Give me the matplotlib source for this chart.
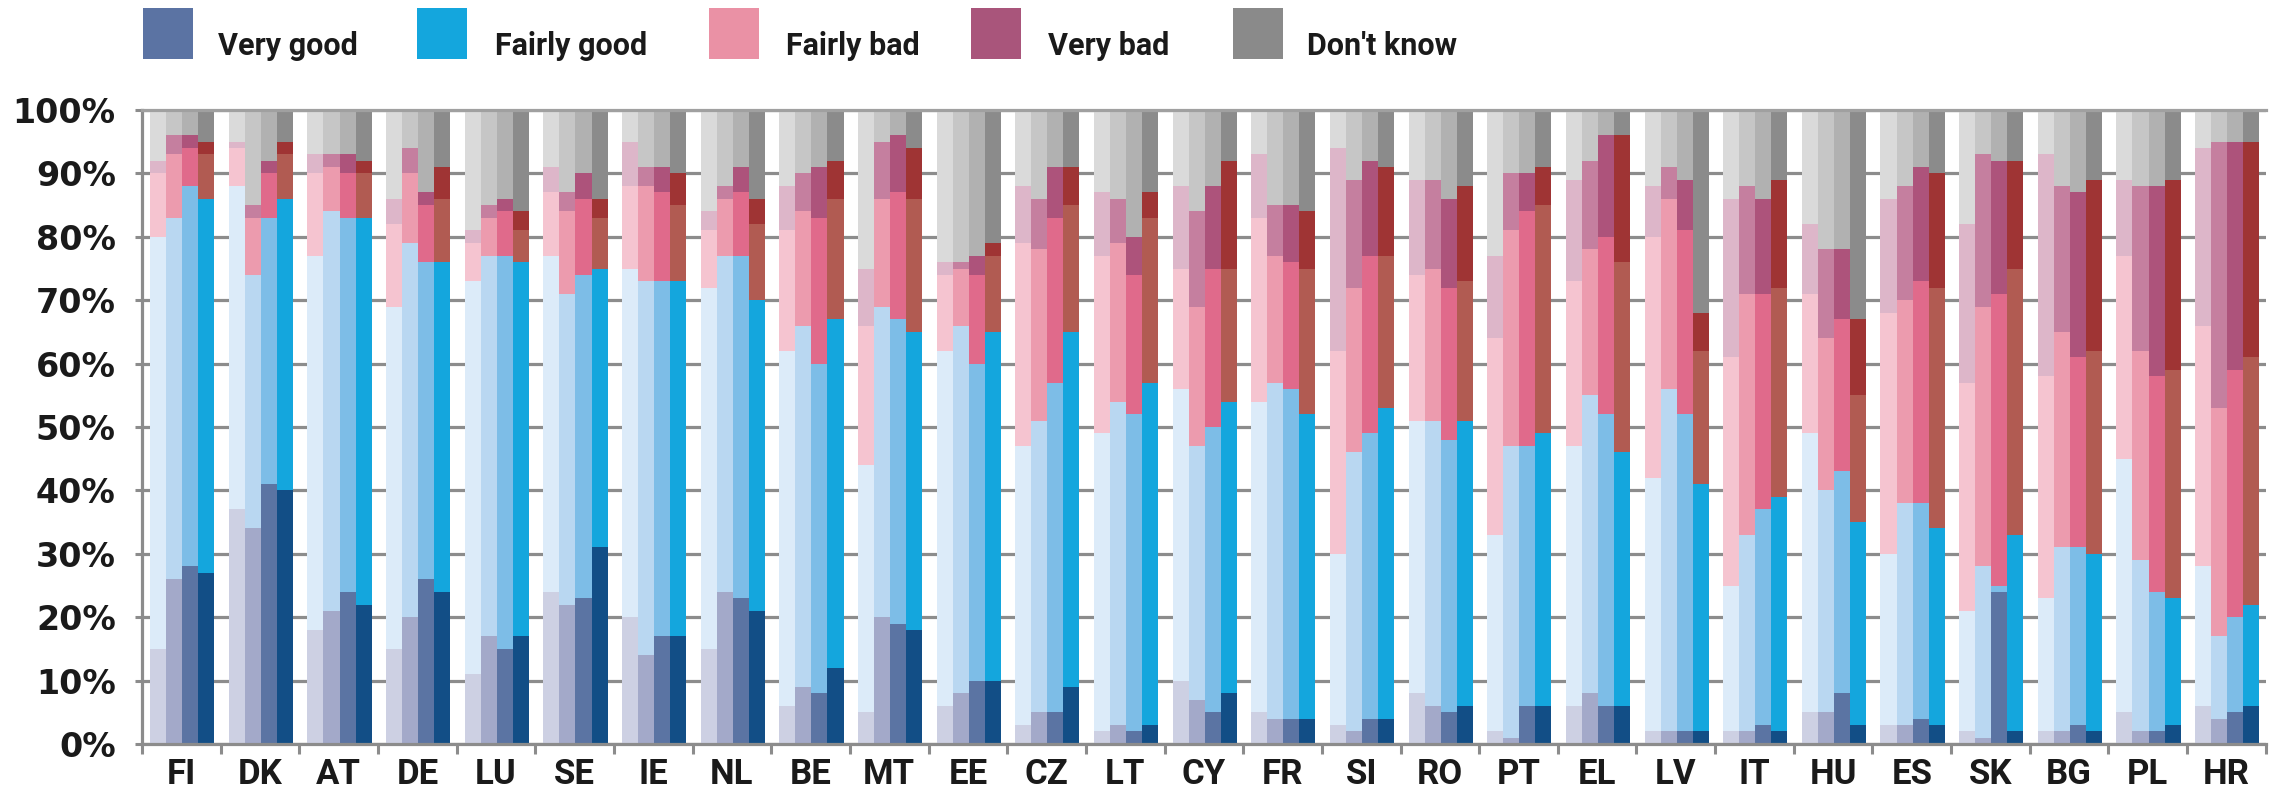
import matplotlib.pyplot as plt
import numpy as np
from matplotlib.patches import Rectangle

countries = ['FI', 'DK', 'AT', 'DE', 'LU', 'SE', 'IE', 'NL', 'BE', 'MT', 'EE', 'CZ', 'LT', 'CY',
             'FR', 'SI', 'RO', 'PT', 'EL', 'LV', 'IT', 'HU', 'ES', 'SK', 'BG', 'PL', 'HR']
labels = ['Very good', 'Fairly good', 'Fairly bad', 'Very bad', "Don't know"]

# shares (%) per country, one value per survey wave (4 bars per country)
very_good = [
    [15, 26, 28, 27], [37, 34, 41, 40], [18, 21, 24, 22], [15, 20, 26, 24], [11, 17, 15, 17],
    [24, 22, 23, 31], [20, 14, 17, 17], [15, 24, 23, 21], [6, 9, 8, 12], [5, 20, 19, 18],
    [6, 8, 10, 10], [3, 5, 5, 9], [2, 3, 2, 3], [10, 7, 5, 8], [5, 4, 4, 4],
    [3, 2, 4, 4], [8, 6, 5, 6], [2, 1, 6, 6], [6, 8, 6, 6], [2, 2, 2, 2],
    [2, 2, 3, 2], [5, 5, 8, 3], [3, 3, 4, 3], [2, 1, 24, 2], [2, 2, 3, 2],
    [5, 2, 2, 3], [6, 4, 5, 6],
]
fairly_good = [
    [65, 57, 60, 59], [51, 40, 42, 46], [59, 63, 59, 61], [54, 59, 50, 52], [62, 60, 62, 59],
    [53, 49, 51, 44], [55, 59, 56, 56], [57, 53, 54, 49], [56, 57, 52, 55], [39, 49, 48, 47],
    [56, 58, 50, 55], [44, 46, 52, 56], [47, 51, 50, 54], [46, 40, 45, 46], [49, 53, 52, 48],
    [27, 44, 45, 49], [43, 45, 43, 45], [31, 46, 41, 43], [41, 47, 46, 40], [40, 54, 50, 39],
    [23, 31, 34, 37], [44, 35, 35, 32], [27, 35, 34, 31], [19, 27, 1, 31], [21, 29, 28, 28],
    [40, 27, 22, 20], [22, 13, 15, 16],
]
fairly_bad = [
    [10, 10, 6, 7], [6, 9, 7, 7], [13, 7, 7, 7], [13, 11, 9, 10], [6, 6, 7, 5],
    [10, 13, 12, 8], [13, 15, 14, 12], [9, 9, 10, 12], [19, 18, 23, 19], [22, 17, 20, 21],
    [12, 9, 14, 12], [32, 27, 26, 20], [28, 25, 22, 26], [19, 22, 25, 21], [29, 20, 20, 23],
    [32, 26, 28, 24], [23, 24, 24, 22], [31, 34, 37, 36], [26, 23, 28, 30], [38, 30, 29, 21],
    [36, 38, 34, 33], [22, 24, 24, 20], [38, 32, 35, 38], [36, 41, 46, 42], [35, 34, 30, 32],
    [32, 33, 34, 36], [38, 36, 39, 39],
]
very_bad = [
    [2, 3, 2, 2], [1, 2, 2, 2], [3, 2, 3, 2], [4, 4, 2, 5], [2, 2, 2, 3],
    [4, 3, 4, 3], [7, 3, 4, 5], [3, 2, 4, 4], [7, 6, 8, 6], [9, 9, 9, 8],
    [2, 1, 3, 2], [9, 8, 8, 6], [10, 7, 6, 4], [13, 15, 13, 17], [10, 8, 9, 9],
    [32, 17, 15, 14], [15, 14, 14, 15], [13, 9, 6, 6], [16, 14, 16, 20], [8, 5, 8, 6],
    [25, 17, 15, 17], [11, 14, 11, 12], [18, 18, 18, 18], [25, 24, 21, 17], [35, 23, 26, 27],
    [12, 26, 30, 30], [28, 42, 36, 34],
]
dont_know = [
    [8, 4, 4, 5], [5, 15, 8, 5], [7, 7, 7, 8], [14, 6, 13, 9], [19, 15, 14, 16],
    [9, 13, 10, 14], [5, 9, 9, 10], [16, 12, 9, 14], [12, 10, 9, 8], [25, 5, 4, 6],
    [24, 24, 23, 21], [12, 14, 9, 9], [13, 14, 20, 13], [12, 16, 12, 8], [7, 15, 15, 16],
    [6, 11, 8, 9], [11, 11, 14, 12], [23, 10, 10, 9], [11, 8, 4, 4], [12, 9, 11, 32],
    [14, 12, 14, 11], [18, 22, 22, 33], [14, 12, 9, 10], [18, 7, 8, 8], [7, 12, 13, 11],
    [11, 12, 12, 11], [6, 5, 5, 5],
]

# colour shades, lightest (first wave) to darkest (last wave)
shades = [
    ['#cdd0e3', '#a3a9c9', '#5b74a3', '#124e86'],
    ['#dcebf9', '#b9d7f1', '#7dbde7', '#14a6dd'],
    ['#f5c4d0', '#ec9bae', '#e06a8b', '#b15b52'],
    ['#ddb6c9', '#c57f9f', '#ad537b', '#9f3434'],
    ['#dadada', '#c6c6c6', '#b1b1b1', '#8b8b8b'],
]
legend_colors = ['#5b73a3', '#14a6dd', '#ea91a5', '#a9557b', '#8a8a8a']

gray = '#8c8c8c'
txt = '#1a1a1a'

fig = plt.figure(figsize=(22.81, 8), dpi=100)
ax = fig.add_axes([0.0623, 0.07, 0.931, 0.7925])

x = np.arange(len(countries))
w = 0.204
series = [very_good, fairly_good, fairly_bad, very_bad, dont_know]
for j in range(4):
    bottom = np.zeros(len(countries))
    for k, data in enumerate(series):
        vals = np.array([row[j] for row in data], dtype=float)
        ax.bar(x + (j - 1.5) * w + 0.01, vals, w, bottom=bottom,
               color=shades[k][j], linewidth=0, zorder=2)
        bottom += vals

ax.set_xlim(-0.5, len(countries) - 0.5)
ax.set_ylim(0, 100)
ax.set_yticks(np.arange(0, 101, 10))
ax.set_yticklabels([f'{v}%' for v in range(0, 101, 10)],
                   fontsize=24, fontweight='bold', family='DejaVu Sans', color=txt)
ax.set_xticks(x)
ax.set_xticklabels(countries, fontsize=25, fontweight='bold', family='Roboto', color=txt)
ax.set_xticks(np.arange(-0.5, len(countries)), minor=True)
ax.tick_params(axis='x', which='major', length=0, pad=10)
ax.tick_params(axis='x', which='minor', length=7, width=2.2, color=gray, direction='out')
ax.tick_params(axis='y', length=5, width=2.2, color=gray, pad=14)

ax.set_axisbelow(True)
ax.yaxis.grid(True, color=gray, linewidth=2.3)
for side in ['left', 'bottom']:
    ax.spines[side].set_color(gray)
    ax.spines[side].set_linewidth(2.3)
ax.spines['top'].set_color('#a0a0a0')
ax.spines['top'].set_linewidth(2.3)
ax.spines['right'].set_visible(False)

# legend
sq_x = [143, 417, 709, 971, 1233]
tx_x = [218, 495, 786, 1048, 1307]
W, H = 2281, 800
for lab, col, sx, tx in zip(labels, legend_colors, sq_x, tx_x):
    fig.patches.append(Rectangle((sx / W, 1 - 59 / H), 50 / W, 51 / H,
                                 transform=fig.transFigure, color=col, linewidth=0))
    fig.text(tx / W, 1 - 55 / H, lab, fontsize=22, fontweight='bold', family='Roboto',
             color=txt, va='baseline', ha='left')

fig.savefig('out.png', dpi=100)
